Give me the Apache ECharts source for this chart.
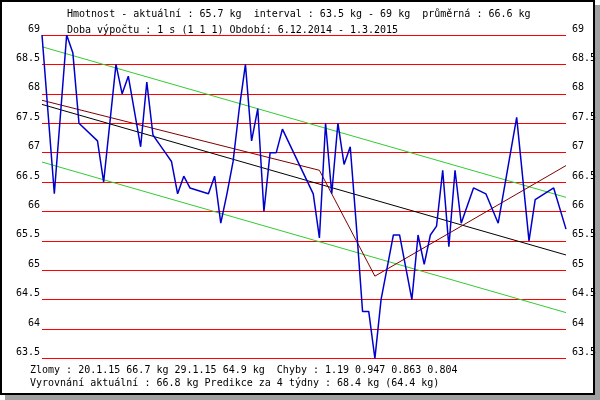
<!DOCTYPE html>
<html>
<head>
<meta charset="utf-8">
<script src="https://cdn.jsdelivr.net/npm/echarts@6/dist/echarts.min.js"></script>
<style>
html,body{margin:0;padding:0;background:#fff;}
#c{width:600px;height:400px;}
</style>
</head>
<body>
<div id="c"></div>
<script>
// Day index from 6.12.2014 (day 0) to 1.3.2015 (day 85)
var days    = [0, 2, 4, 5, 6, 9, 10, 12, 13, 14, 16, 17, 18, 19, 20, 21, 22, 23, 24, 27, 28, 29, 30, 31, 32, 33, 34, 35, 36, 37, 38, 39, 44, 45, 46, 47, 48, 49, 50, 51, 52, 53, 54, 55, 56, 57, 58, 60, 61, 62, 63, 64, 65, 66, 67, 68, 70, 72, 74, 77, 79, 80, 83, 85];
var weights = [69.0, 66.3, 69.0, 68.7, 67.5, 67.2, 66.5, 68.5, 68.0, 68.3, 67.1, 68.2, 67.3, 67.15, 67.0, 66.85, 66.3, 66.6, 66.4, 66.3, 66.6, 65.8, 66.3, 66.85, 67.75, 68.5, 67.2, 67.75, 66.0, 67.0, 67.0, 67.4, 66.3, 65.55, 67.5, 66.3, 67.5, 66.8, 67.1, 65.75, 64.3, 64.3, 63.5, 64.5, 65.05, 65.6, 65.6, 64.5, 65.6, 65.1, 65.6, 65.75, 66.7, 65.4, 66.7, 65.8, 66.4, 66.3, 65.8, 67.6, 65.5, 66.2, 66.4, 65.7];

// trend lines: [day, kg]
var trendDays   = [0, 85];
var trendCenter = [67.82, 65.26];
var trendUpper  = [68.80, 66.24];
var trendLower  = [66.84, 64.28];
var brokenDays  = [0, 45, 54, 85];
var brokenVals  = [67.89, 66.7, 64.9, 66.78];

var yMin = 63.5, yMax = 69, yStep = 0.5;

var topLine1 = 'Hmotnost - aktuální : 65.7 kg  interval : 63.5 kg - 69 kg  průměrná : 66.6 kg';
var topLine2 = 'Doba výpočtu : 1 s (1 1 1) Období: 6.12.2014 - 1.3.2015';
var botLine1 = 'Zlomy : 20.1.15 66.7 kg 29.1.15 64.9 kg  Chyby : 1.19 0.947 0.863 0.804';
var botLine2 = 'Vyrovnání aktuální : 66.8 kg Predikce za 4 týdny : 68.4 kg (64.4 kg)';

function pairs(xs, ys){ return xs.map(function(x,i){ return [x, ys[i]]; }); }

var FONT = '"DejaVu Sans Mono", "Liberation Mono", monospace';
var chart = echarts.init(document.getElementById('c'), null, {renderer:'canvas'});

function txt(x, y, s){
  return {type:'text', x:x, y:y, silent:true, z:10,
    style:{text:s, fill:'#000', font:'10px ' + FONT, verticalAlign:'middle', align:'left'}};
}

chart.setOption({
  animation:false,
  backgroundColor:'#fff',
  grid:{left:42, top:35, width:524, height:323.5, containLabel:false},
  xAxis:{type:'value', min:0, max:85, show:false},
  yAxis:[
    {type:'value', min:yMin, max:yMax, interval:yStep, position:'left',
     axisLine:{show:false}, axisTick:{show:false},
     axisLabel:{margin:2, color:'#000', fontSize:10, fontFamily:FONT, verticalAlign:'bottom', lineHeight:12},
     splitLine:{show:true, lineStyle:{color:'#ff0000', width:1}}},
    {type:'value', min:yMin, max:yMax, interval:yStep, position:'right',
     axisLine:{show:false}, axisTick:{show:false},
     axisLabel:{margin:6, color:'#000', fontSize:10, fontFamily:FONT, verticalAlign:'bottom', lineHeight:12},
     splitLine:{show:false}}
  ],
  series:[
    {type:'line', data:pairs(trendDays, trendUpper), showSymbol:false, lineStyle:{color:'#33cc33', width:1}, z:2},
    {type:'line', data:pairs(trendDays, trendLower), showSymbol:false, lineStyle:{color:'#33cc33', width:1}, z:2},
    {type:'line', data:pairs(trendDays, trendCenter), showSymbol:false, lineStyle:{color:'#000000', width:1}, z:3},
    {type:'line', data:pairs(brokenDays, brokenVals), showSymbol:false, lineStyle:{color:'#800000', width:1}, z:4},
    {type:'line', data:pairs(days, weights), showSymbol:false, lineStyle:{color:'#0000cc', width:1.5}, z:5}
  ],
  graphic:[
    {type:'rect', shape:{x:5, y:395, width:595, height:5}, style:{fill:'#a0a0a0'}, silent:true},
    {type:'rect', shape:{x:595, y:5, width:5, height:395}, style:{fill:'#a0a0a0'}, silent:true},
    {type:'rect', shape:{x:1, y:1, width:593, height:393}, style:{fill:null, stroke:'#000', lineWidth:2}, silent:true},
    txt(67, 14, topLine1),
    txt(67, 30.5, topLine2),
    txt(30, 370.5, botLine1),
    txt(30, 383.5, botLine2)
  ]
});
</script>
</body>
</html>
